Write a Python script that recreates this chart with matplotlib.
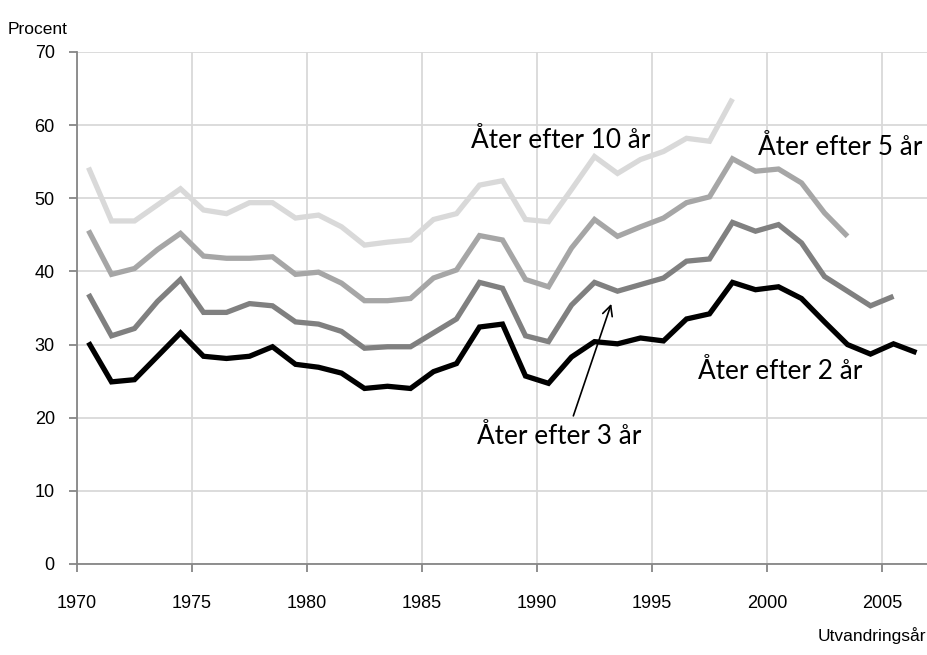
import matplotlib
matplotlib.use("Agg")
import matplotlib.pyplot as plt
import numpy as np

years_10 = list(range(1970, 1999))
ater_10 = [54.2, 46.9, 46.9, 49.1, 51.3, 48.4, 47.9, 49.4, 49.4, 47.3, 47.7, 46.1,
           43.6, 44.0, 44.3, 47.1, 47.9, 51.8, 52.4, 47.1, 46.8, 51.2, 55.7, 53.4,
           55.3, 56.4, 58.2, 57.8, 63.6]

years_5 = list(range(1970, 2004))
ater_5 = [45.6, 39.6, 40.4, 43.0, 45.2, 42.1, 41.8, 41.8, 42.0, 39.6, 39.9, 38.4,
          36.0, 36.0, 36.3, 39.1, 40.2, 44.9, 44.3, 38.9, 37.9, 43.2, 47.1, 44.8,
          46.1, 47.3, 49.4, 50.2, 55.4, 53.7, 54.0, 52.1, 48.0, 44.8]

years_3 = list(range(1970, 2006))
ater_3 = [36.9, 31.2, 32.2, 35.9, 38.9, 34.4, 34.4, 35.6, 35.3, 33.1, 32.8, 31.8,
          29.5, 29.7, 29.7, 31.6, 33.5, 38.5, 37.7, 31.2, 30.4, 35.4, 38.5, 37.3,
          38.2, 39.1, 41.4, 41.7, 46.7, 45.5, 46.4, 43.9, 39.3, 37.3, 35.3, 36.6]

years_2 = list(range(1970, 2007))
ater_2 = [30.3, 24.9, 25.2, 28.4, 31.6, 28.4, 28.1, 28.4, 29.7, 27.3, 26.9, 26.1,
          24.0, 24.3, 24.0, 26.3, 27.4, 32.4, 32.8, 25.7, 24.7, 28.3, 30.4, 30.1,
          30.9, 30.5, 33.5, 34.2, 38.5, 37.5, 37.9, 36.3, 33.1, 30.0, 28.7, 30.1, 28.9]

series = [
    (years_10, ater_10, "#d9d9d9"),
    (years_5, ater_5, "#a6a6a6"),
    (years_3, ater_3, "#808080"),
    (years_2, ater_2, "#000000"),
]

xticks = [1970, 1975, 1980, 1985, 1990, 1995, 2000, 2005]
yticks = [0, 10, 20, 30, 40, 50, 60, 70]

axis_font = ["Liberation Sans", "DejaVu Sans"]

fig = plt.figure(figsize=(9.28, 6.55), dpi=100)
ax = fig.add_axes([77/928, 91/655, 851/928, 512/655])

for yrs, vals, col in series:
    ax.plot(np.array(yrs) + 0.5, vals, color=col, lw=3.8, solid_joinstyle="miter",
            solid_capstyle="butt", zorder=3)

ax.set_xlim(1970, 2007)
ax.set_ylim(0, 70)
ax.set_xticks(xticks)
ax.set_yticks(yticks)
ax.grid(True, color="#d9d9d9", lw=1.3, zorder=0)
ax.set_axisbelow(True)
for s in ["top", "right"]:
    ax.spines[s].set_visible(False)
for s in ["left", "bottom"]:
    ax.spines[s].set_color("#868686")
    ax.spines[s].set_linewidth(1.3)
ax.tick_params(axis="both", colors="#868686", length=6, width=1.3,
               labelcolor="black", labelsize=13)
ax.tick_params(axis="x", pad=16)
ax.tick_params(axis="y", pad=10)
for lab in ax.get_xticklabels() + ax.get_yticklabels():
    lab.set_family(axis_font)

fig.text(8/928, 1 - 30/655, "Procent", fontsize=12.5, family=axis_font,
         ha="left", va="center")
fig.text(926/928, 1 - 636/655, "Utvandringsår", fontsize=12.5,
         family=axis_font, ha="right", va="center")

lab_font = dict(fontsize=18.8, family=["Lato", "DejaVu Sans"], color="black")
ax.text(1987.15, 56.9, "Åter efter 10 år", ha="left", va="baseline", **lab_font)
ax.text(1999.6, 55.95, "Åter efter 5 år", ha="left", va="baseline", **lab_font)
ax.text(1997.0, 25.3, "Åter efter 2 år", ha="left", va="baseline", **lab_font)
ax.text(1987.41, 16.4, "Åter efter 3 år", ha="left", va="baseline", **lab_font)
ax.annotate("", xy=(1993.23, 35.57), xytext=(1991.58, 20.25),
            arrowprops=dict(arrowstyle="->", color="black", lw=1.2,
                            mutation_scale=18, shrinkA=0, shrinkB=0))

fig.savefig("out.png", dpi=100)
